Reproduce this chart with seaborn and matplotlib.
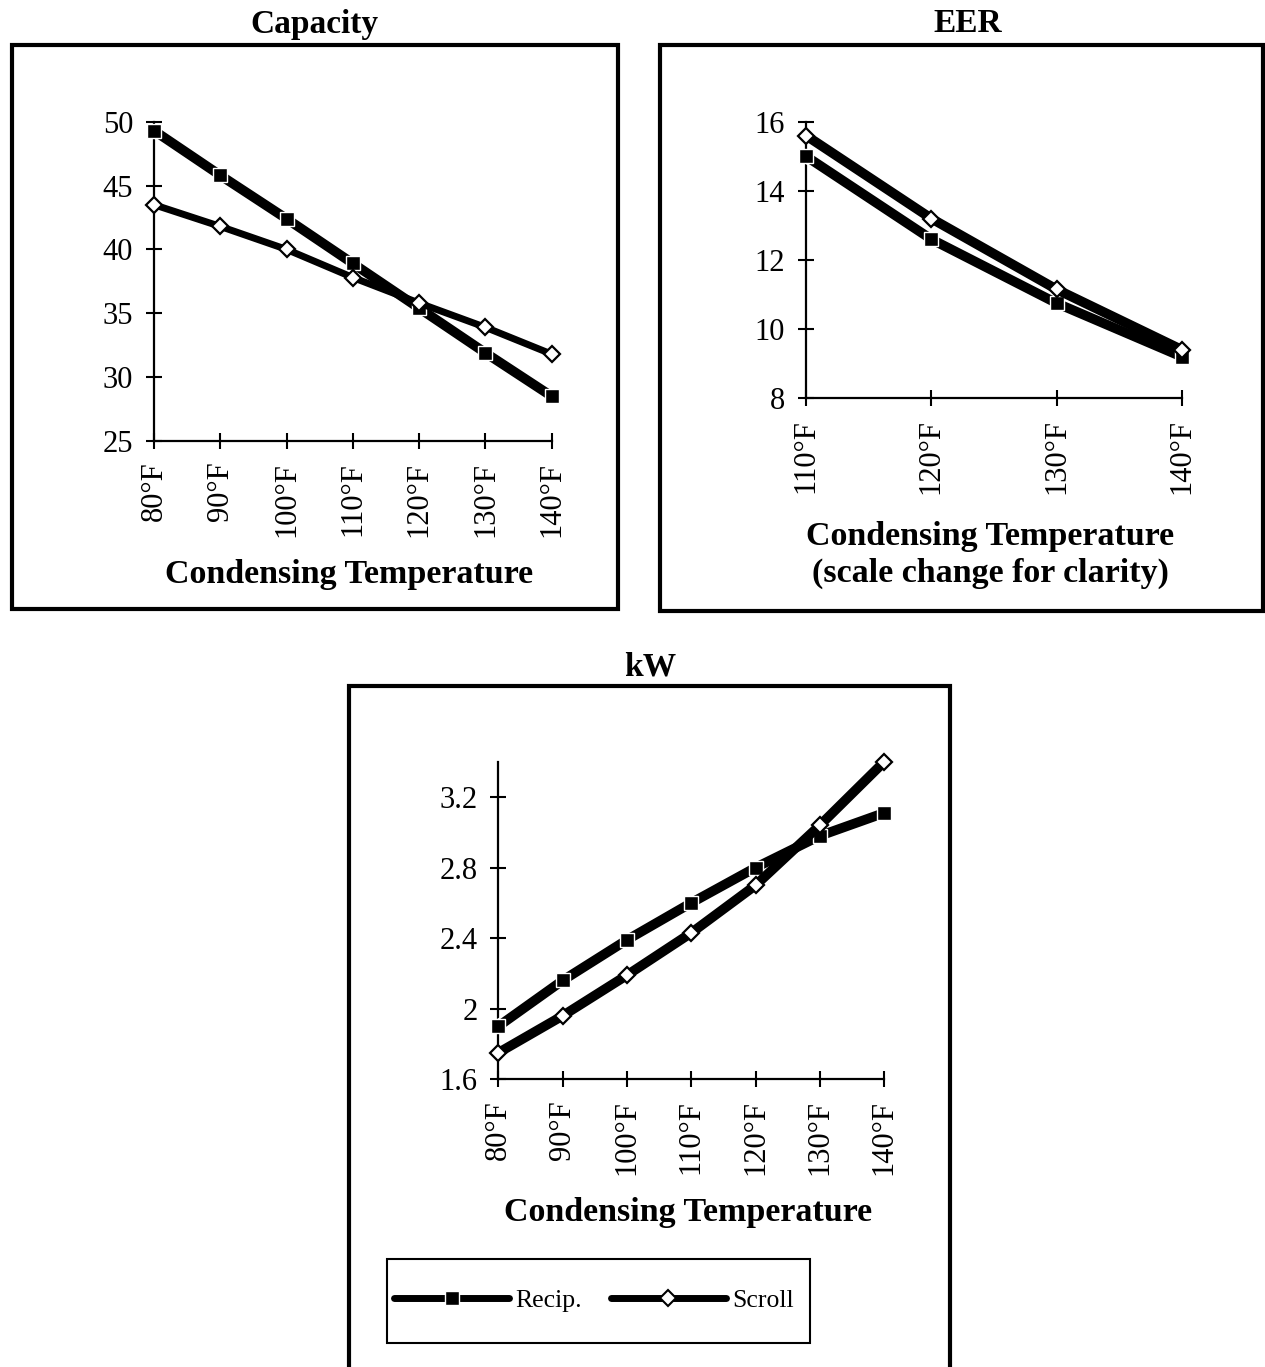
import numpy as np
import pandas as pd
import matplotlib
matplotlib.use("Agg")
import matplotlib.pyplot as plt
import seaborn as sns
from matplotlib.patches import Rectangle
from matplotlib.lines import Line2D

# ---------------- data ----------------
temps_full = ["80°F", "90°F", "100°F", "110°F", "120°F", "130°F", "140°F"]
temps_eer = ["110°F", "120°F", "130°F", "140°F"]
cap_recip = [49.3, 45.8, 42.4, 38.9, 35.4, 31.9, 28.5]
cap_scroll = [43.5, 41.8, 40.0, 37.8, 35.8, 33.9, 31.8]
eer_recip = [15.0, 12.6, 10.75, 9.2]
eer_scroll = [15.6, 13.2, 11.15, 9.4]
kw_recip = [1.90, 2.16, 2.39, 2.60, 2.80, 2.98, 3.11]
kw_scroll = [1.75, 1.96, 2.19, 2.43, 2.70, 3.04, 3.40]
cap_yticks = [25, 30, 35, 40, 45, 50]
eer_yticks = [8, 10, 12, 14, 16]
kw_yticks = [1.6, 2.0, 2.4, 2.8, 3.2]
kw_yticklabels = ["1.6", "2", "2.4", "2.8", "3.2"]
series_names = ["Recip.", "Scroll"]
titles = ["Capacity", "EER", "kW"]
xlabel_main = "Condensing Temperature"
xlabel_eer = "Condensing Temperature\n(scale change for clarity)"

# ---------------- style ----------------
sns.set_theme(style="white")
plt.rcParams["font.family"] = ["Liberation Serif", "DejaVu Serif"]
plt.rcParams["text.color"] = "black"
plt.rcParams["xtick.color"] = "black"
plt.rcParams["ytick.color"] = "black"
plt.rcParams["xtick.labelcolor"] = "black"
plt.rcParams["ytick.labelcolor"] = "black"

W, H = 1265, 1367
fig = plt.figure(figsize=(W / 100, H / 100), dpi=100)


def fr(x0, y0, x1, y1):
    return [x0 / W, 1 - y1 / H, (x1 - x0) / W, (y1 - y0) / H]


def draw(ax, cats, recip, scroll, lw_r, lw_s, ylim, yticks, yticklabels=None):
    n = len(cats)
    df = pd.DataFrame({
        "temp": cats * 2,
        "value": recip + scroll,
        "series": [series_names[0]] * n + [series_names[1]] * n,
    })
    styles = [
        (series_names[0], lw_r, "s", "black", "white", 10, 1.0),
        (series_names[1], lw_s, "D", "white", "black", 8.5, 1.6),
    ]
    for name, lw, mk, mfc, mec, ms, mew in styles:
        sub = df[df["series"] == name]
        sns.lineplot(data=sub, x="temp", y="value", ax=ax, color="white",
                     lw=lw + 2.5, sort=False, errorbar=None, legend=False,
                     zorder=3, clip_on=False)
        sns.lineplot(data=sub, x="temp", y="value", ax=ax, color="black",
                     lw=lw, marker=mk, markersize=ms, markerfacecolor=mfc,
                     markeredgecolor=mec, markeredgewidth=mew, sort=False,
                     errorbar=None, legend=False, zorder=4, clip_on=False,
                     solid_joinstyle="miter")
    ax.set_xlim(0, n - 1)
    ax.set_ylim(*ylim)
    ax.set_xticks(range(n))
    ax.set_xticklabels(cats, rotation=90, ha="center", va="top")
    ax.set_yticks(yticks)
    if yticklabels is not None:
        ax.set_yticklabels(yticklabels)
    for s in ["top", "right"]:
        ax.spines[s].set_visible(False)
    for s in ["left", "bottom"]:
        ax.spines[s].set_linewidth(1.6)
        ax.spines[s].set_color("black")
    ax.tick_params(axis="both", which="major", bottom=True, left=True,
                   top=False, right=False, direction="inout", length=12,
                   width=1.5, color="black", labelcolor="black",
                   labelsize=22, pad=9)
    ax.set_ylabel("")
    ax.set_xlabel("")
    ax.set_facecolor("white")


ax1 = fig.add_axes(fr(154, 121.7, 551.7, 441))
draw(ax1, temps_full, cap_recip, cap_scroll, 7, 5, (25, 50), cap_yticks)
ax2 = fig.add_axes(fr(806, 121.7, 1182, 398.3))
draw(ax2, temps_eer, eer_recip, eer_scroll, 7, 7, (8, 16), eer_yticks)
ax3 = fig.add_axes(fr(498.3, 761.7, 884.3, 1079.3))
draw(ax3, temps_full, kw_recip, kw_scroll, 7, 7, (1.6, 3.4), kw_yticks,
     kw_yticklabels)

# axis labels
fig.text(349 / W, 1 - 574 / H, xlabel_main, ha="center", va="center",
         fontsize=24.5, fontweight="bold", color="black")
fig.text(990 / W, 1 - 555 / H, xlabel_eer, ha="center", va="center",
         fontsize=24.5, fontweight="bold", linespacing=1.25, color="black")
fig.text(688 / W, 1 - 1213 / H, xlabel_main, ha="center", va="center",
         fontsize=24.5, fontweight="bold", color="black")

# titles
fig.text(314 / W, 1 - 24 / H, titles[0], ha="center", va="center",
         fontsize=24, fontweight="bold", color="black")
fig.text(968 / W, 1 - 24 / H, titles[1], ha="center", va="center",
         fontsize=24, fontweight="bold", color="black")
fig.text(650 / W, 1 - 667 / H, titles[2], ha="center", va="center",
         fontsize=24, fontweight="bold", color="black")

# panel frames
def box(x0, y0, x1, y1, lw=3.0):
    fig.add_artist(Rectangle((x0 / W, 1 - y1 / H), (x1 - x0) / W, (y1 - y0) / H,
                             transform=fig.transFigure, fill=False,
                             edgecolor="black", linewidth=lw, zorder=0))

box(12, 45, 618, 609)
box(660, 45, 1263, 611)
box(349, 686, 950, 1400)
box(387, 1259, 810, 1343, lw=1.5)

# legend
handles = [
    Line2D([], [], color="black", lw=5, marker="s", markersize=9.5,
           markerfacecolor="black", markeredgecolor="white", markeredgewidth=1,
           solid_capstyle="round"),
    Line2D([], [], color="black", lw=5, marker="D", markersize=8.5,
           markerfacecolor="white", markeredgecolor="black", markeredgewidth=1.5,
           solid_capstyle="round"),
]
leg = fig.legend(handles, series_names, loc="center",
                 bbox_to_anchor=(594 / W, 1 - 1301 / H), ncol=2, frameon=False,
                 numpoints=1, handlelength=4.5, handletextpad=0.25,
                 columnspacing=1.1, fontsize=18.5)
for t in leg.get_texts():
    t.set_color("black")

fig.savefig("out.png", dpi=100, facecolor="white")
